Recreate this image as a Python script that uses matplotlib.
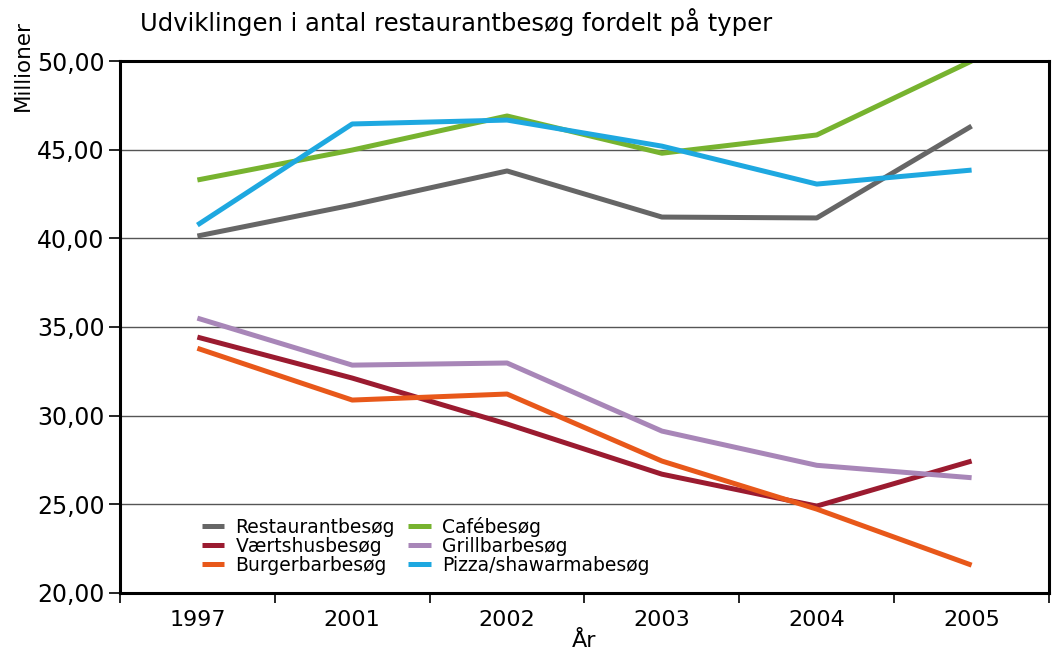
import matplotlib.pyplot as plt
from matplotlib.ticker import FixedLocator, FuncFormatter

# data (millioner besøg)
aar = ['1997', '2001', '2002', '2003', '2004', '2005']
restaurant = [40.13, 41.88, 43.80, 41.20, 41.15, 46.33]
cafe = [43.29, 44.98, 46.90, 44.80, 45.83, 50.00]
vaertshus = [34.43, 32.12, 29.53, 26.70, 24.90, 27.44]
grillbar = [35.50, 32.85, 32.97, 29.13, 27.20, 26.50]
burgerbar = [33.80, 30.88, 31.22, 27.44, 24.73, 21.57]
pizza = [40.75, 46.45, 46.67, 45.20, 43.06, 43.85]

serier = [
    ('Restaurantbesøg', restaurant, '#666666'),
    ('Værtshusbesøg', vaertshus, '#9b1b30'),
    ('Burgerbarbesøg', burgerbar, '#e8581a'),
    ('Cafébesøg', cafe, '#77b32f'),
    ('Grillbarbesøg', grillbar, '#a886b8'),
    ('Pizza/shawarmabesøg', pizza, '#1ea8e0'),
]

plt.rcParams['font.family'] = ['DejaVu Sans']

fig = plt.figure(figsize=(10.56, 6.54), dpi=100)
ax = fig.add_axes([0.1136, 0.0933, 0.8798, 0.8134])

x = list(range(len(aar)))
for navn, vals, farve in serier:
    ax.plot(x, vals, color=farve, linewidth=3.6, label=navn, solid_capstyle='butt')

ax.set_xlim(-0.5, len(aar) - 0.5)
ax.set_ylim(20, 50)
ax.set_yticks([20, 25, 30, 35, 40, 45, 50])
ax.yaxis.set_major_formatter(FuncFormatter(lambda v, p: f'{v:.2f}'.replace('.', ',')))
ax.set_xticks(x)
ax.set_xticklabels(aar)
ax.xaxis.set_minor_locator(FixedLocator([i - 0.5 for i in range(len(aar) + 1)]))
ax.tick_params(axis='x', which='major', length=0, pad=12, labelsize=16)
ax.tick_params(axis='x', which='minor', length=7, width=1.2, direction='out')
ax.tick_params(axis='y', length=8, width=1.2, labelsize=17, pad=3)

ax.grid(True, axis='y', color='#555555', linewidth=1)
ax.set_axisbelow(True)
for s in ax.spines.values():
    s.set_linewidth(2.2)
    s.set_color('black')

fig.text(0.1326, 0.966, 'Udviklingen i antal restaurantbesøg fordelt på typer',
         fontsize=17.5, va='center', ha='left')
fig.text(0.022, 0.9, 'Millioner', rotation=90, fontsize=15.5, ha='center', va='center')
ax.set_xlabel('År', fontsize=16, labelpad=1)

ax.legend(loc='lower left', bbox_to_anchor=(0.08, 0.02), ncol=2, frameon=False,
          fontsize=13.5, handlelength=1.2, handletextpad=0.6, columnspacing=0.7,
          labelspacing=0.0, borderaxespad=0)

fig.savefig('out.png', dpi=100)
